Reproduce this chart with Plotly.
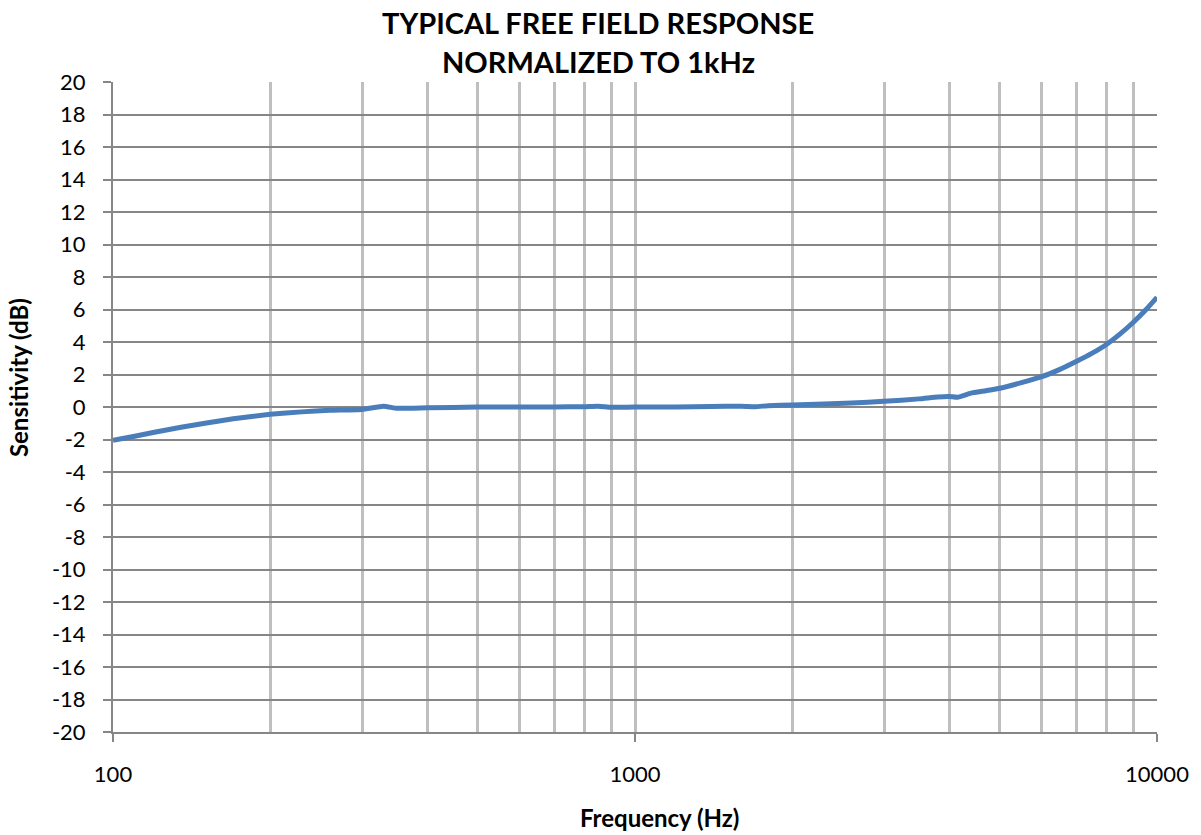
import plotly.graph_objects as go

freq_hz = [100, 110, 120, 135, 150, 170, 200, 230, 260, 300, 330, 350, 400, 500, 600, 700,
           800, 850, 900, 1000, 1200, 1400, 1600, 1700, 1800, 2000, 2300, 2600, 3000, 3500,
           3800, 4000, 4150, 4400, 4700, 5000, 5500, 6000, 6500, 7000, 7500, 8000, 8500,
           9000, 9500, 10000]
sens_db = [-2.05, -1.8, -1.55, -1.25, -1.0, -0.72, -0.45, -0.3, -0.2, -0.15, 0.05, -0.08,
           -0.05, 0.0, 0.0, 0.0, 0.02, 0.05, -0.02, 0.0, 0.0, 0.03, 0.05, 0.02, 0.08, 0.12,
           0.18, 0.25, 0.35, 0.5, 0.62, 0.65, 0.6, 0.85, 1.0, 1.15, 1.5, 1.85, 2.3, 2.8, 3.3,
           3.85, 4.5, 5.2, 5.95, 6.75]

x_major = [100, 1000, 10000]
x_minor = [200, 300, 400, 500, 600, 700, 800, 900, 2000, 3000, 4000, 5000, 6000, 7000, 8000, 9000]
y_ticks = list(range(-20, 21, 2))
y_ticktext = [str(v) for v in y_ticks]

FONT = "Lato, 'Open Sans', sans-serif"

fig = go.Figure()
fig.add_trace(go.Scatter(x=freq_hz, y=sens_db, mode="lines",
                         line=dict(color="#4a7ebb", width=5, shape="spline", smoothing=0.4),
                         showlegend=False))

fig.update_layout(
    width=1201, height=835,
    margin=dict(l=113, r=44, t=82, b=103),
    paper_bgcolor="white", plot_bgcolor="white",
    font=dict(family=FONT, color="black", size=22),
    xaxis=dict(type="log", range=[2, 4], tickvals=x_major, ticktext=[str(v) for v in x_major],
               showgrid=True, gridcolor="#bfbfbf", gridwidth=2.5,
               minor=dict(tickvals=x_minor, showgrid=True, gridcolor="#bfbfbf", gridwidth=2.5, ticks=""),
               showline=True, linecolor="#868686", linewidth=2,
               ticks="outside", ticklen=8, tickcolor="#868686", tickwidth=2,
               ticklabelstandoff=14, zeroline=False, automargin=False),
    yaxis=dict(range=[-20, 20], tickvals=y_ticks, ticktext=y_ticktext,
               showgrid=True, gridcolor="#868686", gridwidth=2,
               showline=True, linecolor="#868686", linewidth=2,
               ticks="outside", ticklen=8, tickcolor="#868686", tickwidth=2,
               ticklabelstandoff=13, zeroline=False, automargin=False),
    annotations=[
        dict(text="<b>TYPICAL FREE FIELD RESPONSE</b>", xref="paper", yref="paper", x=0.4646, y=1.0923,
             xanchor="center", yanchor="middle", showarrow=False, font=dict(size=29, family=FONT)),
        dict(text="<b>NORMALIZED TO 1kHz</b>", xref="paper", yref="paper", x=0.4646, y=1.0308,
             xanchor="center", yanchor="middle", showarrow=False, font=dict(size=29, family=FONT)),
        dict(text="<b>Frequency (Hz)</b>", xref="paper", yref="paper", x=0.523, y=-0.1323,
             xanchor="center", yanchor="middle", showarrow=False, font=dict(size=24, family=FONT)),
        dict(text="<b>Sensitivity (dB)</b>", xref="paper", yref="paper", x=-0.091, y=0.546,
             xanchor="center", yanchor="middle", textangle=-90, showarrow=False,
             font=dict(size=24, family=FONT)),
    ],
)

fig.write_html("out.html", config={"displayModeBar": False},
               post_script="document.body.style.margin='0';document.body.style.overflow='hidden';")
